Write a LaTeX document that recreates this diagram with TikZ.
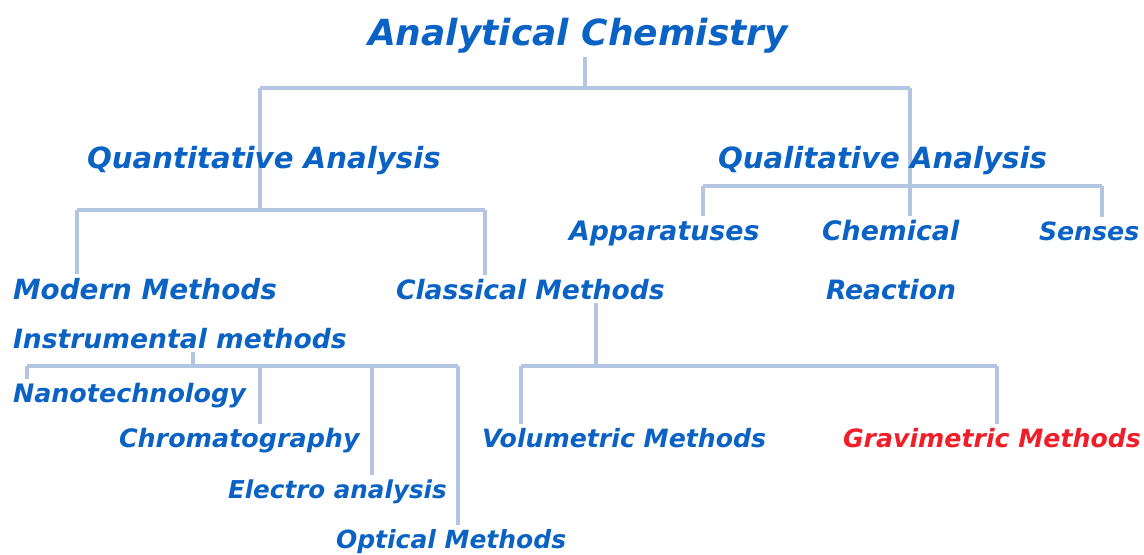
\documentclass[tikz,border=0pt]{standalone}
\usepackage{fontspec}
\setmainfont{DejaVu Sans}
\usetikzlibrary{backgrounds}
\definecolor{labelblue}{HTML}{0A62C4}
\definecolor{linkblue}{HTML}{B3C5E0}
\definecolor{gravred}{HTML}{F01E28}
\tikzset{
	lbl/.style={inner sep=0pt, outer xsep=0pt, outer ysep=2pt, anchor=base west, text=labelblue,
		font=\fontsize{#1}{#1}\selectfont\bfseries\itshape},
	lbl/.default=13.3,
	titlelbl/.style={lbl=18},
	link/.style={draw=linkblue, line width=1.8pt},
}
\begin{document}
\begin{tikzpicture}[x=0.5pt, y=-0.5pt]
	\useasboundingbox (0,0) rectangle (1144,554);

	\node[titlelbl] (chem) at (368,45) {Analytical Chemistry};

	\node[lbl=14.6] (quant) at (87,168) {Quantitative Analysis};
	\node[lbl=14.6] (qual) at (718,168) {Qualitative Analysis};

	\node[lbl=13.4] (appa) at (569,240) {Apparatuses};
	\node[lbl=13.4] (chemical) at (822,240) {Chemical};
	\node[lbl=13.3] (reaction) at (826,299) {Reaction};
	\node[lbl=12.6] (senses) at (1039,240) {Senses};

	\node[lbl=13.9] (modern) at (13,299) {Modern Methods};
	\node[lbl=13.3] (classical) at (396,299) {Classical Methods};
	\node[lbl=13.3] (instr) at (13,348) {Instrumental methods};

	\node[lbl=12.7] (nano) at (13,402) {Nanotechnology};
	\node[lbl=12.7] (chrom) at (119,447) {Chromatography};
	\node[lbl=12.3] (elec) at (228,498) {Electro analysis};
	\node[lbl=12.5] (opt) at (336,548) {Optical Methods};

	\node[lbl=12.6] (vol) at (482,447) {Volumetric Methods};
	\node[lbl=12.6, text=gravred] (grav) at (843,447) {Gravimetric Methods};

	\coordinate (jroot) at (585,88);
	\coordinate (jquant) at (260,88);
	\coordinate (jqual) at (910,88);
	\coordinate (jmod) at (77,210);
	\coordinate (jcla) at (485,210);
	\coordinate (jappa) at (703,186);
	\coordinate (jsens) at (1102,186);
	\coordinate (jinst) at (193,366);
	\coordinate (jnano) at (27,366);
	\coordinate (jchrom) at (260,366);
	\coordinate (jelec) at (372,366);
	\coordinate (jopt) at (458,366);
	\coordinate (jclass) at (596,366);
	\coordinate (jvol) at (521,366);
	\coordinate (jgrav) at (997,366);

	\begin{pgfonlayer}{background}
		\draw[link] (jroot |- chem.south) -- (jroot);
		\draw[link] (jquant) -- (jqual);
		\draw[link] (jquant) -- (jquant |- jmod);
		\draw[link] (jqual) -- (jqual |- chemical.north);

		\draw[link] (jmod) -- (jcla);
		\draw[link] (jmod) -- (jmod |- modern.north);
		\draw[link] (jcla) -- (jcla |- classical.north);

		\draw[link] (jappa) -- (jsens);
		\draw[link] (jappa) -- (jappa |- appa.north);
		\draw[link] (jsens) -- (jsens |- senses.north);

		\draw[link] (instr.south -| jinst) -- (jinst);
		\draw[link] (jnano) -- (jopt);
		\draw[link] (jnano) -- (jnano |- nano.north);
		\draw[link] (jchrom) -- (jchrom |- chrom.north);
		\draw[link] (jelec) -- (jelec |- elec.north);
		\draw[link] (jopt) -- (jopt |- opt.north);

		\draw[link] (classical.south -| jclass) -- (jclass);
		\draw[link] (jvol) -- (jgrav);
		\draw[link] (jvol) -- (jvol |- vol.north);
		\draw[link] (jgrav) -- (jgrav |- grav.north);
	\end{pgfonlayer}
\end{tikzpicture}
\end{document}
